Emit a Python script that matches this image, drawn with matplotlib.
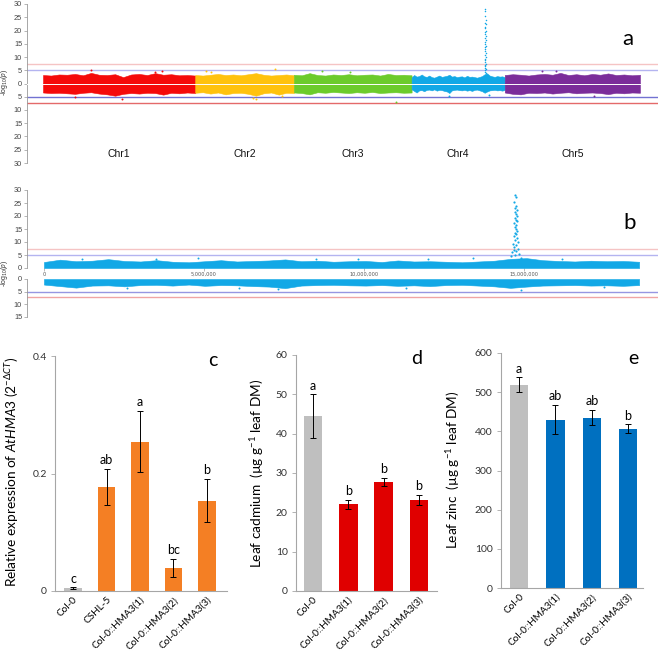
import numpy as np
import matplotlib
matplotlib.use("Agg")
import matplotlib.pyplot as plt

plt.rcParams['mathtext.fontset'] = 'custom'
plt.rcParams['mathtext.rm'] = 'Lato'
plt.rcParams['mathtext.it'] = 'Lato:italic'
plt.rcParams['mathtext.sf'] = 'Lato'

# ---------------- Manhattan data ----------------
chr_names = ["Chr1", "Chr2", "Chr3", "Chr4", "Chr5"]
chr_len = [30.4, 19.7, 23.5, 18.6, 27.0]          # Mb
chr_colors = ["#F50A0A", "#FFC20E", "#6CCB2B", "#12A8E6", "#7B2C9A"]

chr1_top = [3.2, 3.0, 3.4, 3.3, 3.6, 3.1, 4.0, 3.3, 3.2, 3.5, 2.4, 3.4, 3.6, 3.2, 3.9, 3.3, 3.5, 3.1, 3.2, 3.0]
chr1_bot = [3.4, 3.6, 3.5, 3.7, 3.9, 3.5, 3.3, 3.8, 4.1, 4.6, 3.9, 3.6, 3.8, 3.5, 3.6, 4.2, 3.5, 3.7, 3.4, 3.6]
chr2_top = [3.2, 3.0, 3.3, 3.6, 3.2, 3.4, 3.1, 3.5, 3.9, 3.3, 3.0, 3.2, 3.4, 3.1]
chr2_bot = [3.5, 3.3, 3.8, 3.4, 4.1, 3.6, 3.5, 3.9, 4.6, 3.7, 3.4, 4.2, 3.5, 3.6]
chr3_top = [3.3, 3.1, 3.9, 3.2, 3.0, 3.4, 3.2, 3.5, 3.1, 3.3, 3.4, 3.0, 3.6, 3.2, 3.3, 3.1]
chr3_bot = [3.4, 3.6, 4.1, 3.3, 3.5, 3.2, 3.4, 3.6, 3.3, 3.5, 3.2, 3.6, 3.4, 3.3, 3.5, 3.4]
chr4_top = [2.3, 3.2, 2.6, 2.8, 3.4, 2.7, 2.5, 3.0, 2.4, 2.2, 2.6, 3.0, 2.5, 2.7, 2.9, 3.3, 2.6, 2.8, 2.4,
            2.6, 2.7, 2.3, 2.9, 2.5, 2.6, 2.4, 2.2, 2.5, 2.8, 3.5, 3.8, 3.0, 2.7, 2.5, 2.8, 2.6, 2.7, 2.4]
chr4_bot = [2.2, 2.8, 3.4, 2.6, 2.5, 2.9, 2.4, 2.3, 2.6, 2.2, 2.7, 2.4, 2.5, 2.8, 3.0, 3.6, 2.6, 2.4, 2.3,
            2.5, 2.6, 2.4, 2.7, 2.5, 2.8, 2.4, 2.3, 2.6, 2.9, 3.5, 3.0, 2.6, 2.5, 2.4, 2.6, 2.5, 2.7, 2.4]
chr5_top = [3.2, 3.5, 3.3, 3.0, 3.4, 3.6, 3.3, 4.0, 3.2, 3.5, 3.1, 3.6, 3.3, 3.8, 3.2, 3.4, 3.1, 3.3]
chr5_bot = [3.4, 3.9, 4.1, 3.5, 3.6, 3.4, 3.8, 3.5, 3.3, 3.7, 3.5, 3.4, 3.6, 4.0, 3.5, 3.7, 3.4, 3.5]
env_top = [chr1_top, chr2_top, chr3_top, chr4_top, chr5_top]
env_bot = [chr1_bot, chr2_bot, chr3_bot, chr4_bot, chr5_bot]

# peak on Chr4 (position Mb within Chr4, -log10 p)
peak_pos = [14.72, 14.74, 14.70, 14.76, 14.73, 14.78, 14.71, 14.75, 14.77, 14.72, 14.74, 14.79, 14.70,
            14.76, 14.73, 14.75, 14.78, 14.71, 14.74, 14.69, 14.77, 14.73, 14.80, 14.66, 14.75, 14.70,
            14.82, 14.68, 14.74, 14.64, 14.86, 14.72, 14.60, 14.90]
peak_val = [28.0, 27.3, 25.5, 24.0, 23.0, 22.4, 21.5, 20.8, 20.0, 19.3, 18.6, 18.0, 17.2, 16.5, 15.8,
            15.0, 14.3, 13.6, 13.0, 12.2, 11.5, 10.8, 10.0, 9.3, 8.7, 8.0, 7.5, 7.0, 6.5, 6.0, 5.5,
            5.0, 4.5, 4.0]

# scattered single SNPs (cumulative Mb, value)
out_a_x = [6.4, 23.7, 46.3, 41.9, 70.5, 55.8, 102.5, 110.0, 33.5, 81.0, 9.6, 15.7, 22.3, 42.6, 32.5,
           89.0, 99.6, 61.2, 47.8]
out_a_y = [-5.0, 4.8, 5.4, -5.5, -7.1, 4.9, 4.7, -4.8, 4.4, -4.6, 5.2, -5.7, 4.5, -6.0, 4.9,
           -4.4, 4.6, 4.4, -4.7]
out_b_x = [1.2, 3.5, 4.8, 7.3, 9.8, 12.0, 14.9, 16.2, 2.6, 6.1, 8.5, 11.3, 13.4, 17.5]
out_b_y = [3.6, 3.3, 3.8, -4.1, 3.4, 3.5, -4.3, 3.3, -3.7, -3.5, 3.6, -3.4, 3.9, -3.3]

b_xticks = [0, 5, 10, 15]

# ---------------- Bar data ----------------
c_labels = ["Col-0", "CSHL-5", "Col-0::HMA3(1)", "Col-0::HMA3(2)", "Col-0::HMA3(3)"]
c_vals = [0.005, 0.177, 0.254, 0.039, 0.154]
c_err = [0.001, 0.031, 0.052, 0.016, 0.037]
c_let = ["c", "ab", "a", "bc", "b"]
c_cols = ["#BFBFBF", "#F47F24", "#F47F24", "#F47F24", "#F47F24"]

d_labels = ["Col-0", "Col-0::HMA3(1)", "Col-0::HMA3(2)", "Col-0::HMA3(3)"]
d_vals = [44.5, 22.0, 27.8, 23.2]
d_err = [5.5, 1.2, 1.0, 1.3]
d_let = ["a", "b", "b", "b"]
d_cols = ["#BFBFBF", "#E00000", "#E00000", "#E00000"]

e_labels = ["Col-0", "Col-0::HMA3(1)", "Col-0::HMA3(2)", "Col-0::HMA3(3)"]
e_vals = [519, 430, 435, 407]
e_err = [19, 37, 19, 11]
e_let = ["a", "ab", "ab", "b"]
e_cols = ["#BFBFBF", "#0070C0", "#0070C0", "#0070C0"]

# ---------------- Figure ----------------
W = 658
fig = plt.figure(figsize=(6.58, 6.58), dpi=100)


def ax_px(l, t, r, b):
    return fig.add_axes([l / W, 1 - b / W, (r - l) / W, (b - t) / W])


MAN_FONT = ["Liberation Sans", "DejaVu Sans"]
BAR_FONT = ["Lato", "DejaVu Sans"]


def style_man(ax):
    for s in ["top", "right", "bottom"]:
        ax.spines[s].set_visible(False)
    ax.spines["left"].set_color("#999999")
    ax.spines["left"].set_linewidth(0.6)
    ax.tick_params(axis="y", length=2.5, width=0.5, color="#999999", labelsize=5.3,
                   labelcolor="#444444", pad=1)
    for lab in ax.get_yticklabels():
        lab.set_family(MAN_FONT)


# ---- panel a ----
axa = ax_px(27, 4, 658, 163)
starts = np.concatenate([[0], np.cumsum(chr_len)[:-1]])
total = sum(chr_len)
axa.set_xlim(-3.2, total + 3.6)
axa.set_ylim(-30, 30)
axa.axhline(7.3, color="#F5C4C4", lw=1.0, zorder=1)
axa.axhline(5, color="#B4B4F0", lw=1.0, zorder=1)
axa.axhline(-5, color="#7272D2", lw=1.0, zorder=1)
axa.axhline(-7.3, color="#E46A6A", lw=1.0, zorder=1)
for i in range(5):
    n = len(env_top[i])
    xs = starts[i] + np.linspace(0, chr_len[i], n)
    axa.fill_between(xs, 0, env_top[i], color=chr_colors[i], lw=0.4, zorder=2)
    axa.fill_between(xs, -np.array(env_bot[i]), 0, color=chr_colors[i], lw=0.4, zorder=2)
    axa.text(starts[i] + chr_len[i] / 2, -26.5, chr_names[i], ha="center", va="center",
             fontsize=7.5, family=MAN_FONT, color="#111111")
axa.scatter(np.array(peak_pos) + starts[3], peak_val, s=1.2, color=chr_colors[3], lw=0, zorder=3)
for x, y in zip(out_a_x, out_a_y):
    ci = int(np.searchsorted(np.cumsum(chr_len), x))
    axa.scatter([x], [y], s=2, color=chr_colors[ci], lw=0, zorder=3)
axa.axhline(0, color="white", lw=0.7, zorder=4)
axa.set_yticks(np.arange(-30, 31, 5))
axa.set_yticklabels([str(abs(v)) for v in range(-30, 31, 5)])
axa.set_xticks([])
style_man(axa)
fig.text(5 / W, 1 - 82 / W, r"-log$_{10}$($p$)", rotation=90, ha="center", va="center",
         fontsize=5, family=MAN_FONT, color="#333333")
fig.text(628 / W, 1 - 39 / W, "a", ha="center", va="center", fontsize=16, family=BAR_FONT)

# ---- panel b ----
c4 = chr_colors[3]
xs4 = np.linspace(0, chr_len[3], len(chr4_top))
xl = (-0.53, 19.19)
axbt = ax_px(27, 190, 658, 268)
axbb = ax_px(27, 279, 658, 317)
for ax in (axbt, axbb):
    ax.set_xlim(*xl)
axbt.set_ylim(0, 30)
axbb.set_ylim(-15, 0)
axbt.axhline(7.3, color="#F5C4C4", lw=1.0, zorder=1)
axbt.axhline(5, color="#B4B4F0", lw=1.0, zorder=1)
axbb.axhline(-5, color="#9696E2", lw=1.0, zorder=1)
axbb.axhline(-7.3, color="#F0A4A4", lw=1.0, zorder=1)
axbt.fill_between(xs4, 0, chr4_top, color=c4, lw=0.4, zorder=2)
axbb.fill_between(xs4, -np.array(chr4_bot), 0, color=c4, lw=0.4, zorder=2)
axbt.scatter(peak_pos, peak_val, s=2.5, color=c4, lw=0, zorder=3)
for x, y in zip(out_b_x, out_b_y):
    if y > 0:
        axbt.scatter([x], [y], s=2, color=c4, lw=0, zorder=3)
    else:
        axbb.scatter([x], [y], s=2, color=c4, lw=0, zorder=3)
axbt.set_yticks(np.arange(0, 31, 5))
axbb.set_yticks(np.arange(-15, 1, 5))
axbb.set_yticklabels([str(abs(v)) for v in range(-15, 1, 5)])
axbt.set_xticks(b_xticks)
axbt.set_xticklabels([f"{int(v * 1e6):,}" for v in b_xticks])
axbt.tick_params(axis="x", length=2, width=0.4, color="#888888", labelsize=3.6,
                 labelcolor="#555555", pad=0.8)
axbb.set_xticks([])
for ax in (axbt, axbb):
    style_man(ax)
fig.text(5 / W, 1 - 273 / W, r"-log$_{10}$($p$)", rotation=90, ha="center", va="center",
         fontsize=5, family=MAN_FONT, color="#333333")
fig.text(630 / W, 1 - 223 / W, "b", ha="center", va="center", fontsize=16, family=BAR_FONT)


# ---- bar panels ----
def bar_panel(ax, labels, vals, errs, lets, cols, ymax, ystep, xlim, width, fmt):
    x = np.arange(len(vals))
    ax.bar(x, vals, width=width, color=cols, zorder=2)
    ax.errorbar(x, vals, yerr=errs, fmt="none", ecolor="black", elinewidth=0.7,
                capsize=2.5, capthick=0.7, zorder=3)
    for xi, v, e, t in zip(x, vals, errs, lets):
        ax.annotate(t, (xi, v + e), xytext=(0, 2), textcoords="offset points",
                    ha="center", va="bottom", fontsize=9, family=BAR_FONT)
    ax.set_xlim(*xlim)
    ax.set_ylim(0, ymax)
    ticks = np.arange(0, ymax + ystep / 2, ystep)
    ax.set_yticks(ticks)
    ax.set_yticklabels([fmt(t) for t in ticks])
    ax.set_xticks(x)
    ax.set_xticklabels(labels, rotation=45, ha="right", rotation_mode="anchor",
                       fontsize=7.2, family=BAR_FONT)
    for s in ["top", "right"]:
        ax.spines[s].set_visible(False)
    for s in ["left", "bottom"]:
        ax.spines[s].set_color("#A6A6A6")
        ax.spines[s].set_linewidth(0.8)
    ax.tick_params(axis="x", length=0, pad=3)
    ax.tick_params(axis="y", length=3, width=0.6, color="#A6A6A6", labelsize=7.5,
                   labelcolor="#333333", pad=3)
    for lab in ax.get_yticklabels():
        lab.set_family(BAR_FONT)


axc = ax_px(55, 356, 227, 591)
bar_panel(axc, c_labels, c_vals, c_err, c_let, c_cols, 0.4, 0.2, (-0.54, 4.6), 0.53,
          lambda t: "0" if t == 0 else f"{t:.1f}")
axd = ax_px(296, 355, 437, 591)
bar_panel(axd, d_labels, d_vals, d_err, d_let, d_cols, 60, 10, (-0.48, 3.51), 0.53,
          lambda t: f"{int(t)}")
axe = ax_px(501, 353, 643, 588)
bar_panel(axe, e_labels, e_vals, e_err, e_let, e_cols, 600, 100, (-0.5, 3.41), 0.5,
          lambda t: f"{int(t)}")

fig.text(12 / W, 1 - 472 / W, r"Relative expression of $\it{AtHMA3}$ (2$^{-\Delta CT}$)",
         rotation=90, ha="center", va="center", fontsize=9.8, family=BAR_FONT)
fig.text(257 / W, 1 - 473 / W, r"Leaf cadmium  (µg g$^{-1}$ leaf DM)",
         rotation=90, ha="center", va="center", fontsize=9.8, family=BAR_FONT)
fig.text(453 / W, 1 - 470 / W, r"Leaf zinc  (µg g$^{-1}$ leaf DM)",
         rotation=90, ha="center", va="center", fontsize=9.8, family=BAR_FONT)
fig.text(213 / W, 1 - 361 / W, "c", ha="center", va="center", fontsize=14, family=BAR_FONT)
fig.text(417 / W, 1 - 358 / W, "d", ha="center", va="center", fontsize=14, family=BAR_FONT)
fig.text(633 / W, 1 - 358 / W, "e", ha="center", va="center", fontsize=14, family=BAR_FONT)

fig.savefig("out.png", dpi=100)
